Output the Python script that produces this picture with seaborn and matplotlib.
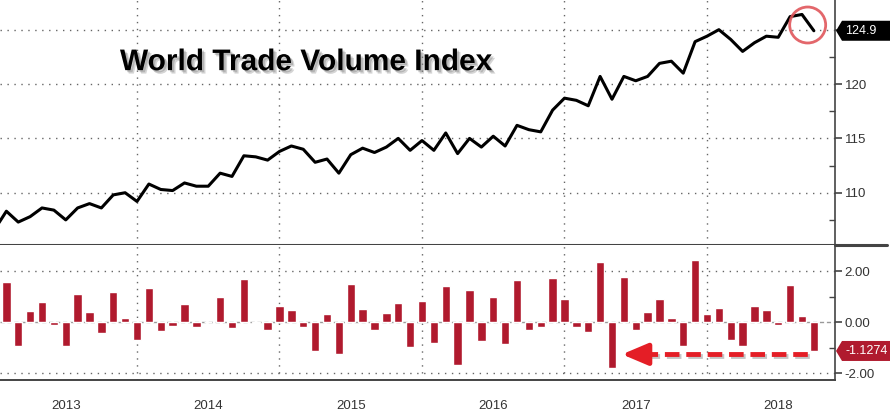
import numpy as np
import pandas as pd
import matplotlib
matplotlib.use("Agg")
import matplotlib.pyplot as plt
import matplotlib.patheffects as pe
import matplotlib.transforms as mtransforms
from matplotlib.patches import Ellipse, Polygon
from matplotlib.lines import Line2D
import seaborn as sns

# ---------------- data ----------------
# World Trade Volume Index, monthly, Dec 2012 .. Sep 2018
index_values = [106.6,
    108.3, 107.3, 107.8, 108.6, 108.4, 107.5, 108.6, 109.0, 108.6, 109.8, 110.0, 109.2,
    110.8, 110.3, 110.2, 110.9, 110.6, 110.6, 111.8, 111.5, 113.4, 113.3, 113.0, 113.8,
    114.3, 114.0, 112.8, 113.1, 111.8, 113.5, 114.1, 113.7, 114.2, 115.0, 113.9, 114.8,
    113.9, 115.5, 113.6, 115.0, 114.2, 115.2, 114.3, 116.2, 115.8, 115.6, 117.6, 118.7,
    118.5, 118.0, 120.7, 118.6, 120.7, 120.3, 120.7, 121.9, 122.1, 121.0, 123.9, 124.4,
    125.0, 124.1, 123.0, 123.8, 124.4, 124.3, 126.2, 126.4, 124.9]

# Month-on-month % change, Jan 2013 .. Sep 2018
mom_change = [
    1.60, -0.93, 0.46, 0.79, -0.10, -0.93, 1.13, 0.39, -0.42, 1.19, 0.17, -0.68,
    1.34, -0.35, -0.14, 0.72, -0.18, 0.02, 1.01, -0.21, 1.71, -0.02, -0.29, 0.64,
    0.50, -0.18, -1.12, 0.31, -1.23, 1.52, 0.52, -0.29, 0.35, 0.76, -0.98, 0.83,
    -0.80, 1.42, -1.68, 1.26, -0.72, 1.01, -0.84, 1.67, -0.31, -0.18, 1.73, 0.93,
    -0.18, -0.38, 2.39, -1.81, 1.77, -0.31, 0.39, 0.93, 0.16, -0.93, 2.45, 0.31,
    0.56, -0.71, -0.93, 0.64, 0.50, -0.10, 1.48, 0.25, -1.1274]

year_labels = ["2013", "2014", "2015", "2016", "2017", "2018"]
title_text = "World Trade Volume Index"
last_index_label = "124.9"
last_change_label = "-1.1274"

# month positions (months since Jan 1 2013, month-end)
dates = pd.date_range("2012-12-31", periods=len(index_values), freq="ME")
xpos_line = ((dates.year - 2013) * 12 + dates.month).to_numpy().astype(float)
xpos_bar = xpos_line[1:]

# ---------------- style ----------------
sns.set_theme(style="white")
plt.rcParams["font.family"] = ["Liberation Sans", "DejaVu Sans"]

BAR = "#b01a2e"
RED = "#e41e26"
GRID = "#666666"
SPINE = "#444444"
TXT = "#333333"

fig = plt.figure(figsize=(8.9, 4.15), dpi=100)
ax1 = fig.add_axes([0.0, 0.4096, 0.9382, 0.5904])
ax2 = fig.add_axes([0.0, 0.0843, 0.9382, 0.3253])

XL = (0.463, 70.78)

# ---------------- top panel ----------------
sns.lineplot(x=xpos_line, y=index_values, ax=ax1, color="black", lw=2.2, zorder=4)
ax1.set_xlim(*XL)
ax1.set_ylim(105.19, 127.73)
ax1.set_xlabel("")
ax1.set_ylabel("")
ax1.set_xticks([12, 24, 36, 48, 60])
ax1.tick_params(axis="x", length=0, labelbottom=False)
ax1.yaxis.tick_right()
ax1.set_yticks([110, 115, 120, 125])
ax1.set_yticklabels(["110", "115", "120", ""])
ax1.set_yticks([107.5, 112.5, 117.5, 122.5], minor=True)
ax1.grid(True, which="major", ls=(0, (1, 4)), color=GRID, lw=1.0)
for s in ["left", "top"]:
    ax1.spines[s].set_visible(False)
ax1.spines["right"].set_color(SPINE)
ax1.spines["right"].set_linewidth(1.2)
ax1.spines["bottom"].set_color(SPINE)
ax1.spines["bottom"].set_linewidth(2.2)

# ---------------- bottom panel ----------------
ax2.axhline(0, color="#999999", lw=1.0, ls=(0, (3, 2)), zorder=1)
for v in (-2, 2):
    ax2.axhline(v, color=GRID, lw=1.0, ls=(0, (1, 4)), zorder=1)
for v in (12, 24, 36, 48, 60):
    ax2.axvline(v, color=GRID, lw=1.0, ls=(0, (1, 4)), zorder=1)
sns.barplot(x=xpos_bar, y=mom_change, ax=ax2, native_scale=True, width=0.7,
            color=BAR, saturation=1, errorbar=None, zorder=3)
ax2.set_xlim(*XL)
ax2.set_ylim(-2.27, 3.04)
ax2.set_xlabel("")
ax2.set_ylabel("")
ax2.yaxis.tick_right()
ax2.set_yticks([-2, 0, 2])
ax2.set_yticklabels(["-2.00", "0.00", "2.00"])
ax2.set_yticks([-1, 1], minor=True)
ax2.grid(False)
ax2.set_xticks([12, 24, 36, 48, 60])
quarters = [q for q in range(3, 70, 3) if q % 12 != 0]
ax2.set_xticks(quarters, minor=True)
ax2.tick_params(axis="x", which="major", direction="out", length=26, width=1.0,
                color="#888888", labelbottom=False)
ax2.tick_params(axis="x", which="minor", direction="out", length=3, width=1.0,
                color=SPINE, labelbottom=False)
for s in ["left", "top"]:
    ax2.spines[s].set_visible(False)
ax2.spines["right"].set_color(SPINE)
ax2.spines["right"].set_linewidth(1.2)
ax2.spines["bottom"].set_color(SPINE)
ax2.spines["bottom"].set_linewidth(1.4)

trans_x = mtransforms.blended_transform_factory(ax2.transData, ax2.transAxes)
for k, lab in enumerate(year_labels):
    ax2.text(6 + 12 * k, -0.19, lab, transform=trans_x, ha="center", va="center",
             fontsize=9.5, color=TXT, clip_on=False)

for ax in (ax1, ax2):
    ax.tick_params(axis="y", which="major", direction="out", length=5, width=1.2,
                   color=SPINE, labelsize=9.5, labelcolor=TXT, pad=2)
    ax.tick_params(axis="y", which="minor", direction="in", length=4, width=1.0,
                   color=SPINE)

# separator line extending beyond right spine
fig.add_artist(Line2D([0.9382, 0.997], [0.4096, 0.4096], color=SPINE, lw=2.2,
                      transform=fig.transFigure))

# ---------------- annotations ----------------
fig.text(0.344, 0.831, title_text, ha="center", va="baseline", fontsize=21.5,
         fontweight="bold", color="black",
         path_effects=[pe.SimplePatchShadow(offset=(2.5, -2.5), shadow_rgbFace="#888888", alpha=0.35),
                       pe.SimplePatchShadow(offset=(1.5, -1.5), shadow_rgbFace="#777777", alpha=0.35),
                       pe.Normal()])

# tag shape in inches relative to the anchor on the right spine
tag_shape = np.array([(0.01, 0.0), (0.07, 0.10), (0.56, 0.10), (0.56, -0.10), (0.07, -0.10)])


def value_tag(ax, y, label, fc):
    tr = mtransforms.blended_transform_factory(ax.transAxes, ax.transData)
    shape_tr = fig.dpi_scale_trans + mtransforms.ScaledTranslation(1.0, y, tr)
    ax.add_patch(Polygon(tag_shape, closed=True, fc=fc, ec="none", transform=shape_tr,
                         clip_on=False, zorder=10))
    ax.text(1.0125, y, label, transform=tr, ha="left", va="center",
            color="white", fontsize=9, clip_on=False, zorder=11)


value_tag(ax1, index_values[-1], last_index_label, "black")
value_tag(ax2, mom_change[-1], last_change_label, BAR)

circ = Ellipse((68.48, 125.43), width=3.03, height=3.31, fill=False, ec="#e0565b",
               lw=2.0, alpha=0.9, zorder=6, clip_on=False)
ax1.add_patch(circ)

arrow_y = -1.26
ax2.plot([54.6, 68.7], [arrow_y, arrow_y], color=RED, lw=3.5, ls=(0, (3, 1.4)),
         solid_capstyle="butt", zorder=7,
         path_effects=[pe.SimpleLineShadow(offset=(1.5, -1.5), alpha=0.25), pe.Normal()])
ax2.annotate("", xy=(52.84, arrow_y), xytext=(54.9, arrow_y), zorder=7,
             arrowprops=dict(arrowstyle="-|>,head_length=1.3,head_width=0.55",
                             color=RED, lw=3.5, shrinkA=0, shrinkB=0))

fig.savefig("out.png", dpi=100)
